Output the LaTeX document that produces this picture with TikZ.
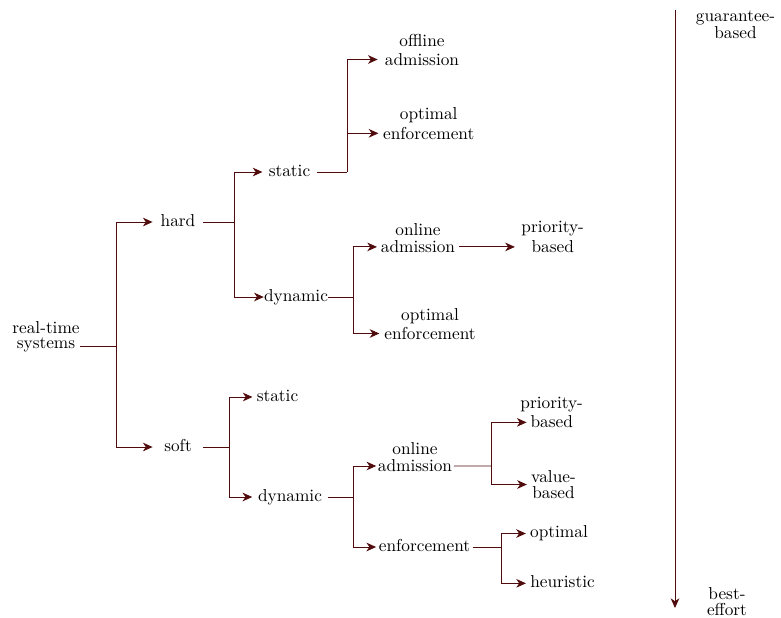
\documentclass[tikz,border=0pt]{standalone}
\usetikzlibrary{arrows.meta,calc}
\definecolor{linkc}{RGB}{80,12,12}
\begin{document}
\begin{tikzpicture}[x=0.5787pt,y=-0.5787pt,
  lbl/.style={inner ysep=1pt,inner xsep=#1,align=center,font=\fontsize{10}{12}\selectfont},
  lbl/.default=2.3pt,
  one/.style={lbl=#1,text height=6.9pt,text depth=1.9pt},
  one/.default=2.3pt,
  link/.style={draw=linkc,line width=0.55pt},
  arr/.style={link,-{Stealth[length=5.6pt,width=5pt,inset=1.7pt]}}]
\useasboundingbox (0,0) rectangle (781,617);

% classification nodes
\node[lbl=0pt] (rt) at (46,337) {real-time\\[-3.3pt]systems};
\node[one=0pt,minimum width=29pt] (hard) at (178,222) {hard};
\node[one=0pt,minimum width=29pt] (soft) at (178,447) {soft};
\node[one=3.5pt] (st1) at (289.5,172) {static};
\node[one=0pt] (dy1) at (296,297) {dynamic};
\node[lbl=4pt] (off) at (422,50) {offline\\[-1pt]admission};
\node[lbl=2.5pt] (oe1) at (428.7,123.3) {optimal\\[-0.4pt]enforcement};
\node[lbl=2.1pt] (on1) at (418,238) {online\\[-1.7pt]admission};
\node[lbl=3.6pt] (pb1) at (552.7,237) {priority-\\[-0.4pt]based};
\node[lbl=2.7pt] (oe2) at (430,324.2) {optimal\\[-1.2pt]enforcement};
\node[one=2.3pt] (st2) at (277.5,397) {static};
\node[one=3.2pt] (dy2) at (290,497) {dynamic};
\node[lbl=0.8pt] (on2) at (415,457.2) {online\\[-1.8pt]admission};
\node[lbl=-3.75pt] (pb2) at (551.7,412.5) {priority-\\[-0.6pt]based};
\node[lbl=2.3pt] (vb) at (553.5,484.5) {value-\\[-2.3pt]based};
\node[one=1.4pt] (en2) at (424.5,547) {enforcement};
\node[one=2.3pt] (opt) at (559,533.5) {optimal};
\node[one=2.3pt] (heu) at (562.5,583.3) {heuristic};
\node[lbl] (gb) at (735.5,25) {guarantee-\\[-2pt]based};
\node[lbl] (be) at (727,601.6) {best-\\[-2.75pt]effort};

% branching points
\coordinate (j0) at (116,346);
\coordinate (j1) at (234,222);
\coordinate (j2) at (229,447);
\coordinate (j3) at (347,172);
\coordinate (j4) at (353,297);
\coordinate (j5) at (353,497);
\coordinate (j6) at (491,466);
\coordinate (j7) at (501,547);
\coordinate (ax0) at (675,10);
\coordinate (ax1) at (675,608);

% tree connectors
\draw[link] ($(rt.east)+(0,9)$) -- (j0);
\draw[arr] (j0) |- (hard.west);
\draw[arr] (j0) |- (soft.west);

\draw[link] (hard.east) -- (j1);
\draw[arr] (j1) |- (st1.west);
\draw[arr] (j1) |- (dy1.west);
\draw[link] (st1.east) -- (j3);
\draw[arr] (j3) |- ($(off.west)+(0,9.5)$);
\draw[arr] (j3) |- ($(oe1.west)+(0,10)$);
\draw[link] (dy1.east) -- (j4);
\draw[arr] (j4) |- ($(on1.west)+(0,8.9)$);
\draw[arr] (j4) |- ($(oe2.west)+(0,9.3)$);
\path ($(on1.east)+(0,8.9)$) coordinate (on1o);
\draw[arr] (on1o) -- (on1o -| pb1.west);

\draw[link] (soft.east) -- (j2);
\draw[arr] (j2) |- (st2.west);
\draw[arr] (j2) |- (dy2.west);
\draw[link] (dy2.east) -- (j5);
\draw[arr] (j5) |- ($(on2.west)+(0,8.8)$);
\draw[arr] (j5) |- (en2.west);
\draw[link] ($(on2.east)+(0,8.8)$) -- (j6);
\draw[arr] (j6) |- ($(pb2.west)+(0,9.85)$);
\draw[arr] (j6) |- (vb.west);
\draw[link] (en2.east) -- (j7);
\draw[arr] (j7) |- (opt.west);
\draw[arr] (j7) |- (heu.west);

% guarantee scale
\draw[arr] (ax0) -- (ax1);
\end{tikzpicture}
\end{document}
